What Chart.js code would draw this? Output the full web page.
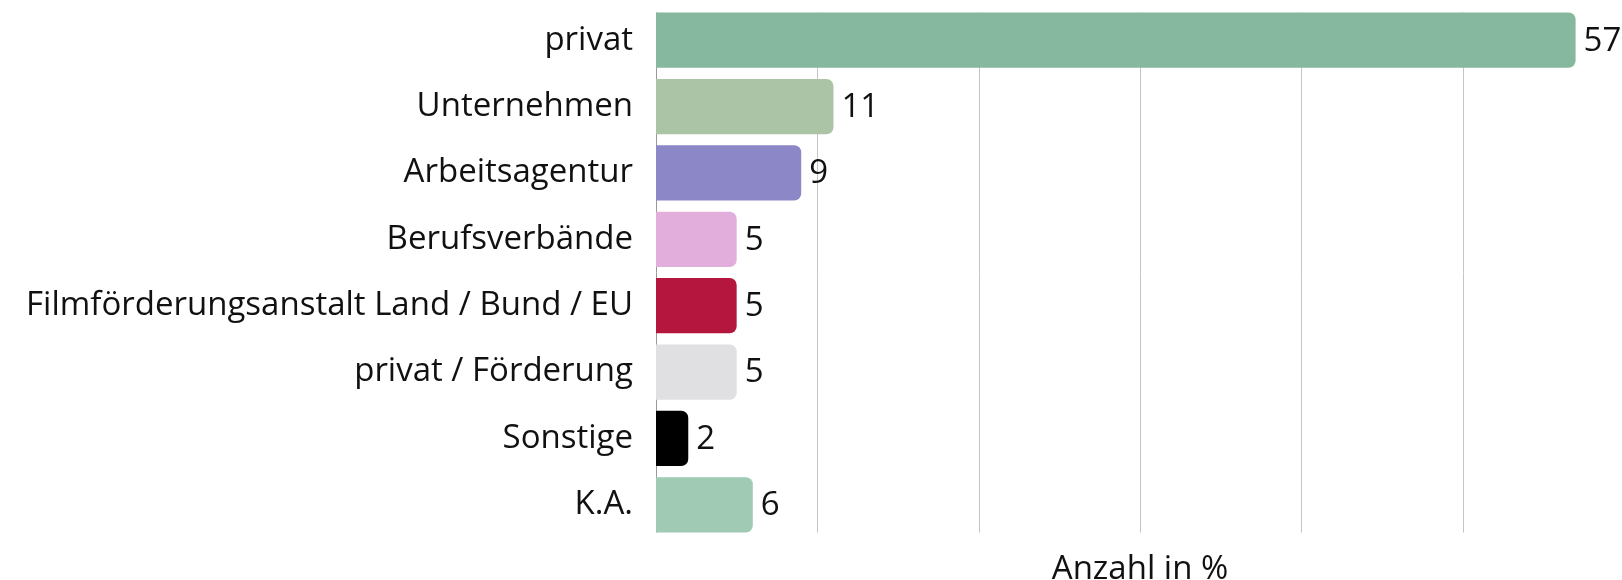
<!DOCTYPE html>
<html lang="de">
<head>
  <meta charset="UTF-8">
  <title>Finanzierung</title>
  <script src="https://cdn.jsdelivr.net/npm/chart.js"></script>
  <style>
    html, body { margin: 0; padding: 0; overflow: hidden; background: #fff; }
    #wrap { width: 1624px; height: 580px; position: relative; }
  </style>
</head>
<body>
<div id="wrap"><canvas id="chart"></canvas></div>

<script>
  // Daten
  const kategorien = ['privat', 'Unternehmen', 'Arbeitsagentur', 'Berufsverbände',
    'Filmförderungsanstalt Land / Bund / EU', 'privat / Förderung', 'Sonstige', 'K.A.'];
  const werte = [57, 11, 9, 5, 5, 5, 2, 6];
  const farben = ['#86b8a0', '#acc4a6', '#8c88c8', '#e2aedc', '#b5163e', '#e0e0e2', '#000000', '#a0cab4'];
  const achsenTitel = 'Anzahl in %';

  const schrift = '"Open Sans", sans-serif';
  const schriftGroesse = 33;

  // Gitterlinien nur im Bereich der Balken + Werte neben den Balken
  const extras = {
    id: 'extras',
    beforeDatasetsDraw(chart) {
      const ctx = chart.ctx;
      const bars = chart.getDatasetMeta(0).data;
      const top = bars[0].y - bars[0].height / 2;
      const bottom = bars[bars.length - 1].y + bars[bars.length - 1].height / 2;
      const x = chart.scales.x;
      ctx.save();
      ctx.lineWidth = 1;
      x.ticks.forEach(t => {
        const px = Math.round(x.getPixelForValue(t.value)) + 0.5;
        ctx.strokeStyle = t.value === 0 ? '#999999' : '#c4c4c4';
        ctx.beginPath();
        ctx.moveTo(px, top);
        ctx.lineTo(px, bottom);
        ctx.stroke();
      });
      ctx.restore();
    },
    afterDatasetsDraw(chart) {
      const ctx = chart.ctx;
      ctx.save();
      ctx.font = schriftGroesse + 'px ' + schrift;
      ctx.fillStyle = '#111';
      ctx.textAlign = 'left';
      ctx.textBaseline = 'middle';
      chart.getDatasetMeta(0).data.forEach((bar, i) => {
        ctx.fillText(String(werte[i]), bar.x + 8, bar.y + 1);
      });
      ctx.restore();
    }
  };

  new Chart(document.getElementById('chart'), {
    type: 'bar',
    data: {
      labels: kategorien,
      datasets: [{
        data: werte,
        backgroundColor: farben,
        borderRadius: 7,
        borderSkipped: 'start',
        barPercentage: 0.834,
        categoryPercentage: 1
      }]
    },
    options: {
      indexAxis: 'y',
      responsive: true,
      maintainAspectRatio: false,
      animation: false,
      layout: { padding: { top: 7, left: 0, right: 0, bottom: 0 } },
      plugins: { legend: { display: false }, tooltip: { enabled: false } },
      scales: {
        x: {
          min: 0,
          max: 60,
          ticks: { display: false, stepSize: 10 },
          grid: { display: false, drawTicks: false },
          border: { display: false },
          title: {
            display: true,
            text: achsenTitel,
            color: '#111',
            font: { family: schrift, size: schriftGroesse },
            padding: { top: 0, bottom: -9 }
          },
          afterFit(scale) { scale.height = 42; }
        },
        y: {
          grid: { display: false, drawTicks: false },
          border: { display: false },
          ticks: {
            color: '#111',
            padding: 23,
            font: { family: schrift, size: schriftGroesse }
          },
          afterFit(scale) {
            scale.width = 656;
            scale.paddingTop = 0;
            scale.paddingBottom = 0;
          }
        }
      }
    },
    plugins: [extras]
  });
</script>
</body>
</html>
